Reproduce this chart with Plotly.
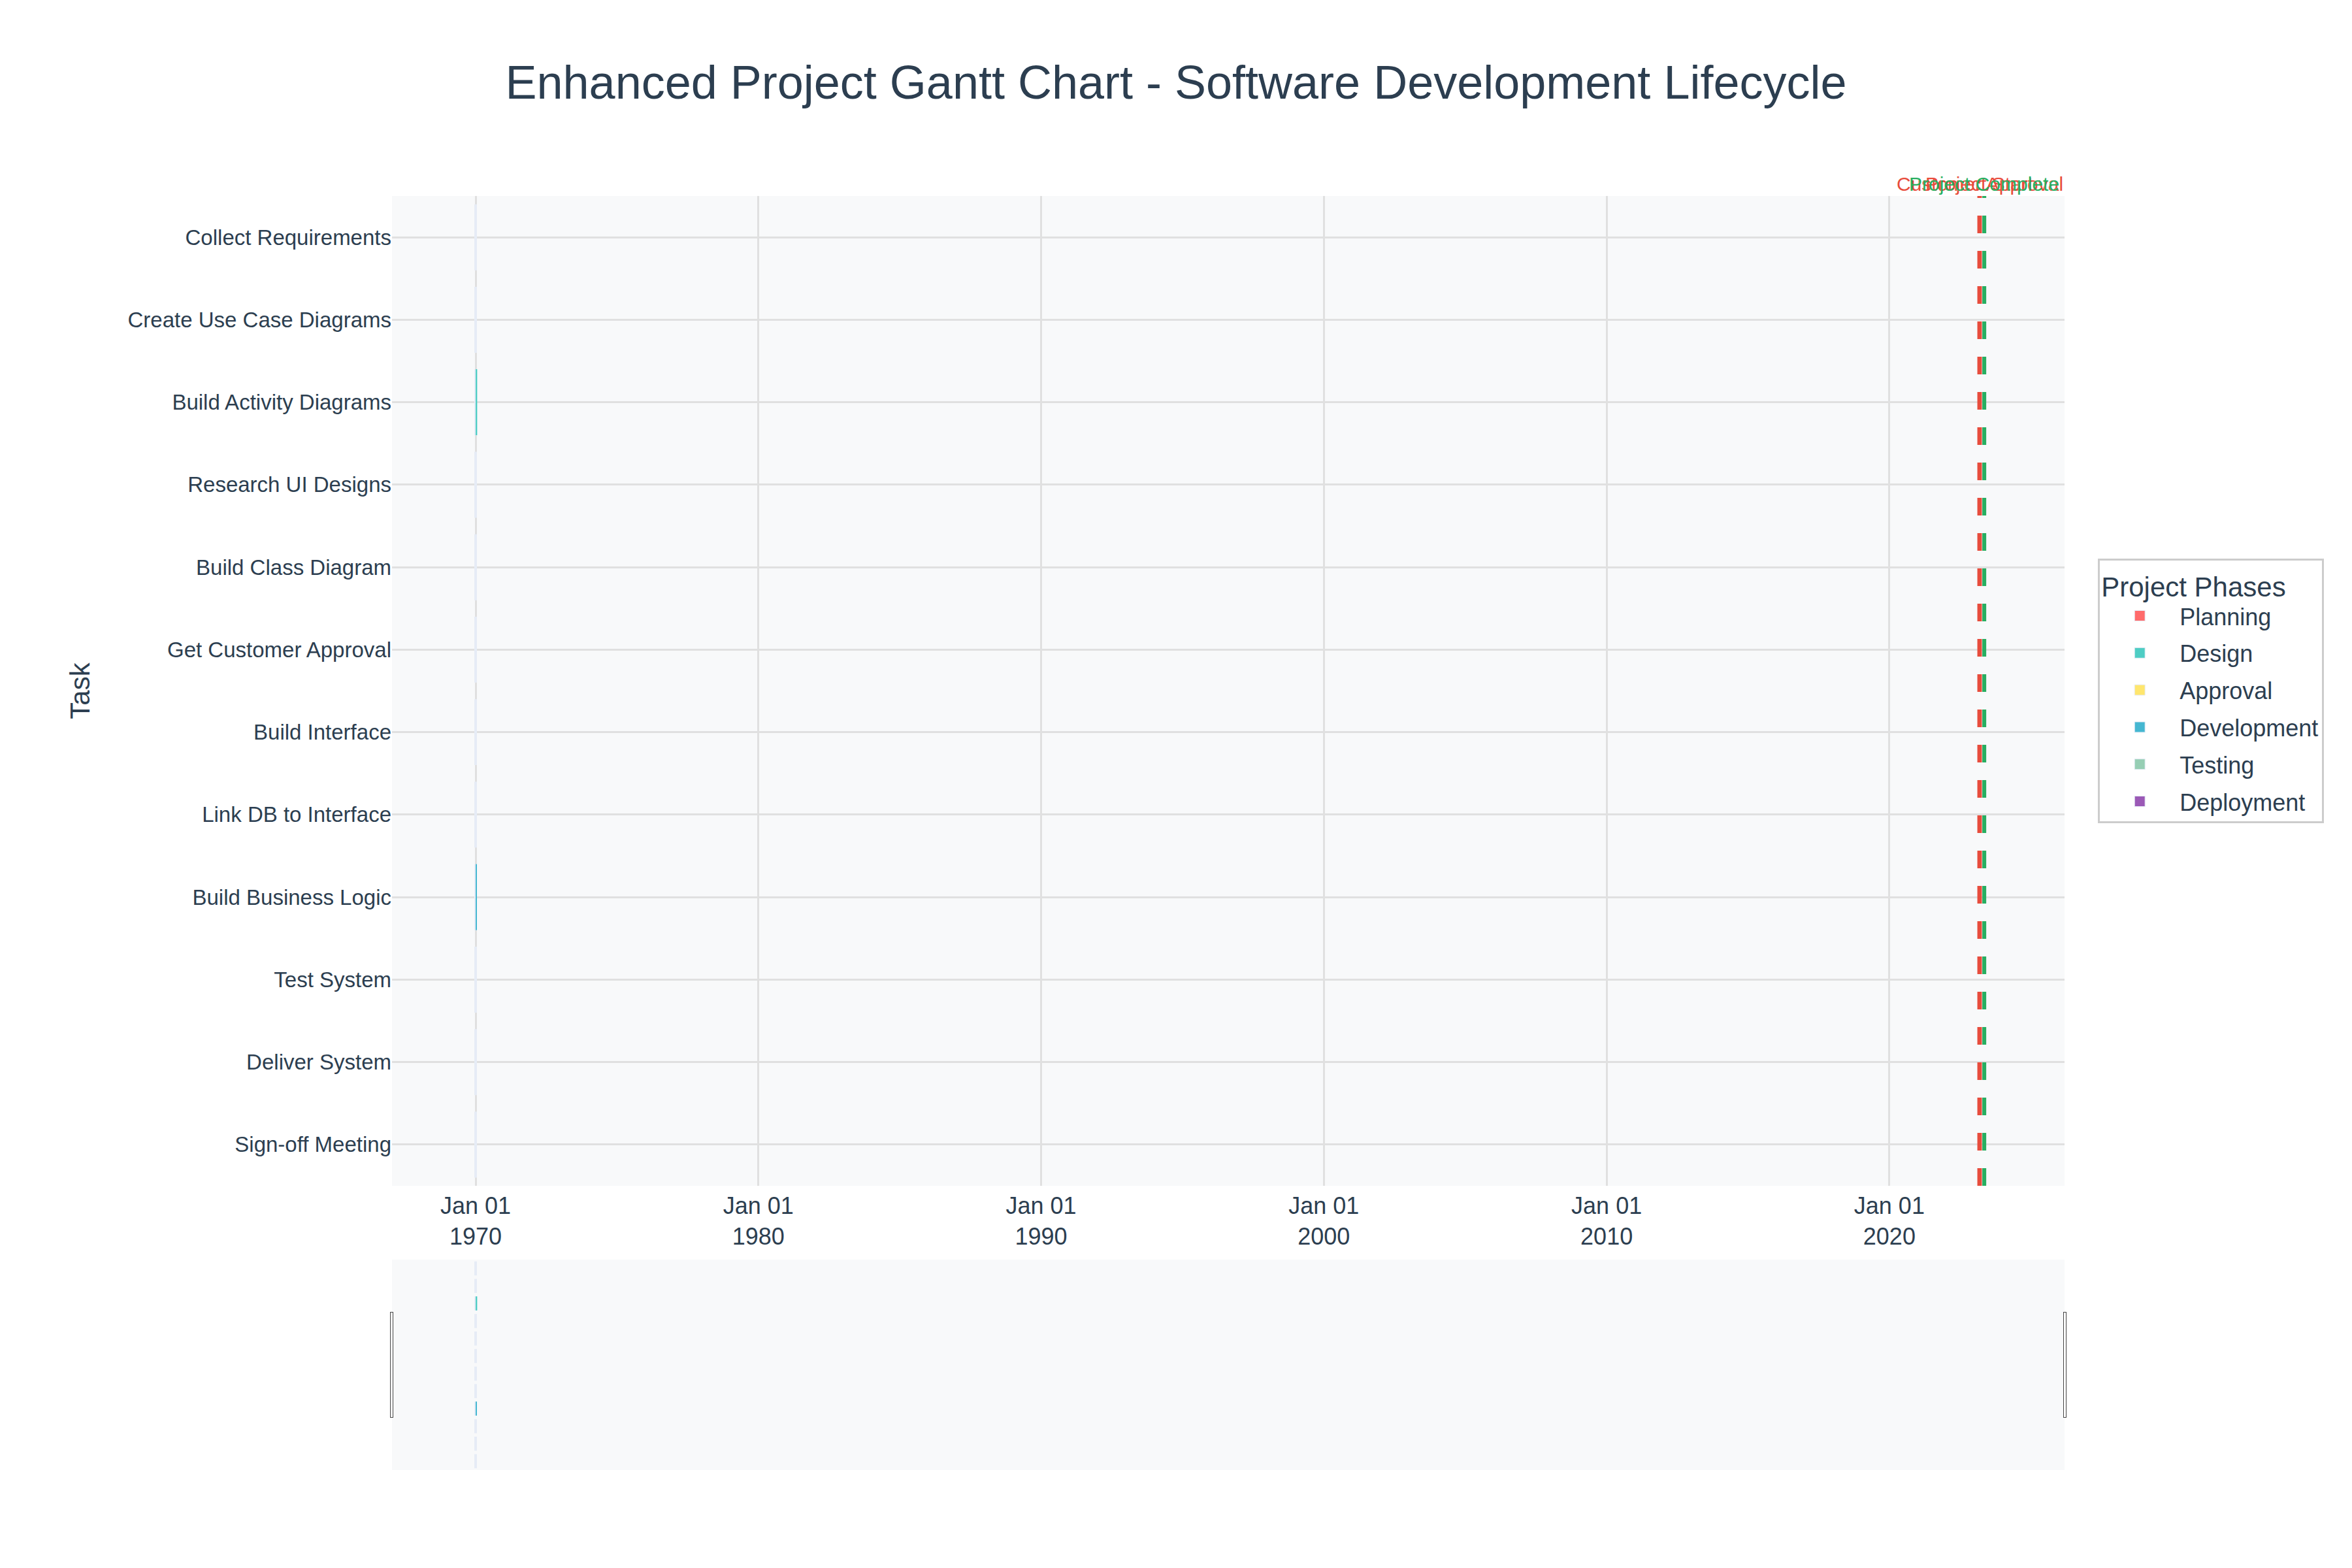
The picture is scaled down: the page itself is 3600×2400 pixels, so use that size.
import plotly.graph_objects as go

# ---------------- data ----------------
tasks = [
    "Collect Requirements", "Create Use Case Diagrams", "Build Activity Diagrams",
    "Research UI Designs", "Build Class Diagram", "Get Customer Approval",
    "Build Interface", "Link DB to Interface", "Build Business Logic",
    "Test System", "Deliver System", "Sign-off Meeting",
]
task_phases = [
    "Planning", "Design", "Design", "Design", "Design", "Approval",
    "Development", "Development", "Development", "Testing", "Deployment", "Deployment",
]
# durations in days (plotted as raw numbers on the date axis -> collapse at the epoch)
task_days = [7, 5, 6, 4, 5, 2, 9, 5, 8, 7, 3, 1]

phases = ["Planning", "Design", "Approval", "Development", "Testing", "Deployment"]
phase_colors = ["#FF6B6B", "#4ECDC4", "#FFE66D", "#45B7D1", "#96CEB4", "#9B59B6"]

# the two bars that show a visible length from 1970-01-01 (days)
visible_tasks = ["Build Activity Diagrams", "Build Business Logic"]
visible_days = [20, 17]

milestone_names = ["Project Start", "Customer Approval", "Project Complete"]
milestone_dates = ["2023-03-08", "2023-03-16", "2023-05-11"]
milestone_colors = ["#E74C3C", "#E74C3C", "#27AE60"]

FONT = "Arial, Liberation Sans, Helvetica, sans-serif"
TXT = "#2C3E50"
S = 3  # scale factor
STRIP = "#E6ECF6"

fig = go.Figure()

color_of = dict(zip(phases, phase_colors))
for ph, col in zip(phases, phase_colors):
    ys = [t for t, p in zip(tasks, task_phases) if p == ph]
    xs = [d for d, p in zip(task_days, task_phases) if p == ph]
    fig.add_trace(go.Bar(
        x=xs, y=ys, orientation="h", name=ph, legendgroup=ph, showlegend=False,
        marker=dict(color=col, line=dict(color=STRIP, width=4)),
    ))

fig.add_trace(go.Bar(
    x=[d * 86400000 for d in visible_days], y=visible_tasks, orientation="h",
    marker=dict(color=[color_of[task_phases[tasks.index(t)]] for t in visible_tasks],
                line=dict(width=0)),
    showlegend=False,
))

# legend entries
for ph, col in zip(phases, phase_colors):
    fig.add_trace(go.Scatter(
        x=[None], y=[None], mode="markers", name=ph, legendgroup=ph,
        marker=dict(symbol="square", size=16, color=col, line=dict(color=STRIP, width=1)),
    ))

for name, date, col in zip(milestone_names, milestone_dates, milestone_colors):
    fig.add_shape(type="line", xref="x", yref="paper", x0=date, x1=date, y0=0, y1=1,
                  line=dict(color=col, width=2 * S, dash="27px,27px"))
    fig.add_annotation(x=date, xref="x", y=1, yref="paper", yanchor="bottom",
                       text=name, showarrow=False,
                       font=dict(size=10 * S, color=col, family=FONT))

fig.update_layout(
    template="plotly_white",
    width=3600, height=2400,
    barmode="overlay",
    font=dict(family=FONT, color=TXT, size=12 * S),
    title=dict(text="Enhanced Project Gantt Chart - Software Development Lifecycle",
               x=0.5, xanchor="center", y=1 - 126 / 2400, yanchor="middle",
               font=dict(size=24 * S, color=TXT, family=FONT)),
    plot_bgcolor="#F8F9FA",
    paper_bgcolor="white",
    margin=dict(l=200 * S, r=440, t=100 * S, b=50 * S),
    legend=dict(
        title=dict(text="Project Phases", font=dict(size=14 * S, color=TXT)),
        font=dict(size=12 * S, color=TXT),
        x=1.02, xanchor="left", y=0.5, yanchor="middle",
        bgcolor="white", bordercolor="#CCCCCC", borderwidth=S,
        itemwidth=112, tracegroupgap=7,
    ),
    xaxis=dict(
        type="date", tickformat="%b %d\n%Y",
        dtick="M120", tick0="1970-01-01",
        showgrid=True, gridcolor="#E0E0E0", gridwidth=S,
        showline=False, zeroline=False,
        ticklabelstandoff=6,
        tickfont=dict(size=12 * S, color=TXT),
        rangeslider=dict(visible=True, bgcolor="#F8F9FA", thickness=0.165),
    ),
    yaxis=dict(
        type="category", categoryorder="array", categoryarray=tasks,
        autorange="reversed",
        title=dict(text="Task", font=dict(size=14 * S, color=TXT), standoff=44),
        showgrid=True, gridcolor="#E0E0E0", gridwidth=S,
        tickfont=dict(size=11 * S, color=TXT),
    ),
)

fig.write_html("out.html")
